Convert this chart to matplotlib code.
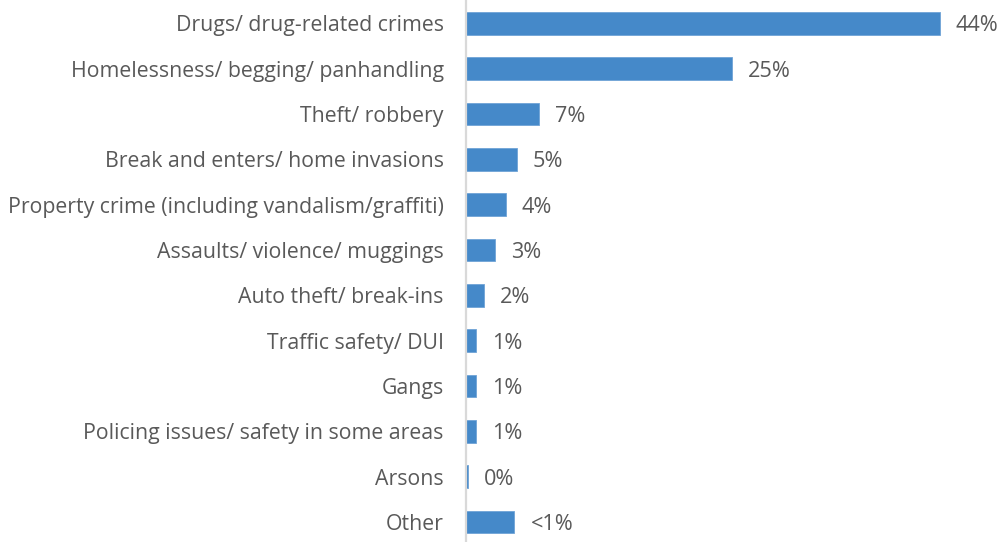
import matplotlib
matplotlib.use("Agg")
import matplotlib.pyplot as plt

categories = [
    "Drugs/ drug-related crimes",
    "Homelessness/ begging/ panhandling",
    "Theft/ robbery",
    "Break and enters/ home invasions",
    "Property crime (including vandalism/graffiti)",
    "Assaults/ violence/ muggings",
    "Auto theft/ break-ins",
    "Traffic safety/ DUI",
    "Gangs",
    "Policing issues/ safety in some areas",
    "Arsons",
    "Other",
]
values = [44.0, 24.7, 6.8, 4.7, 3.7, 2.7, 1.7, 0.95, 0.95, 0.95, 0.2, 4.5]
label_overrides = {"Other": "<1%"}

plt.rcParams["font.family"] = ["Open Sans", "DejaVu Sans"]
text_color = "#595959"
bar_color = "#4589C9"

fig = plt.figure(figsize=(10, 5.42), dpi=100)
ax = fig.add_axes([0.466, -0.005, 0.534, 1.004])

y = list(range(len(categories)))
ax.barh(y, values, height=0.5, color=bar_color, edgecolor="#6FA3D6", linewidth=0.6)

ax.set_xlim(0, 49.6)
ax.set_ylim(len(categories) - 0.5, -0.5)
ax.set_yticks(y)
ax.set_yticklabels(categories, fontsize=15.3, color=text_color, va="center_baseline")
ax.tick_params(axis="y", length=0, pad=16)
ax.set_xticks([])

for s in ["top", "right", "bottom"]:
    ax.spines[s].set_visible(False)
ax.spines["left"].set_color("#D9D9D9")
ax.spines["left"].set_linewidth(1.6)

for yi, cat, v in zip(y, categories, values):
    lab = label_overrides.get(cat, f"{v:.0f}%")
    ax.annotate(lab, xy=(v, yi), xytext=(16, 0), textcoords="offset pixels",
                va="center_baseline", ha="left", fontsize=15.6, color=text_color)

fig.savefig("out.png", dpi=100)
